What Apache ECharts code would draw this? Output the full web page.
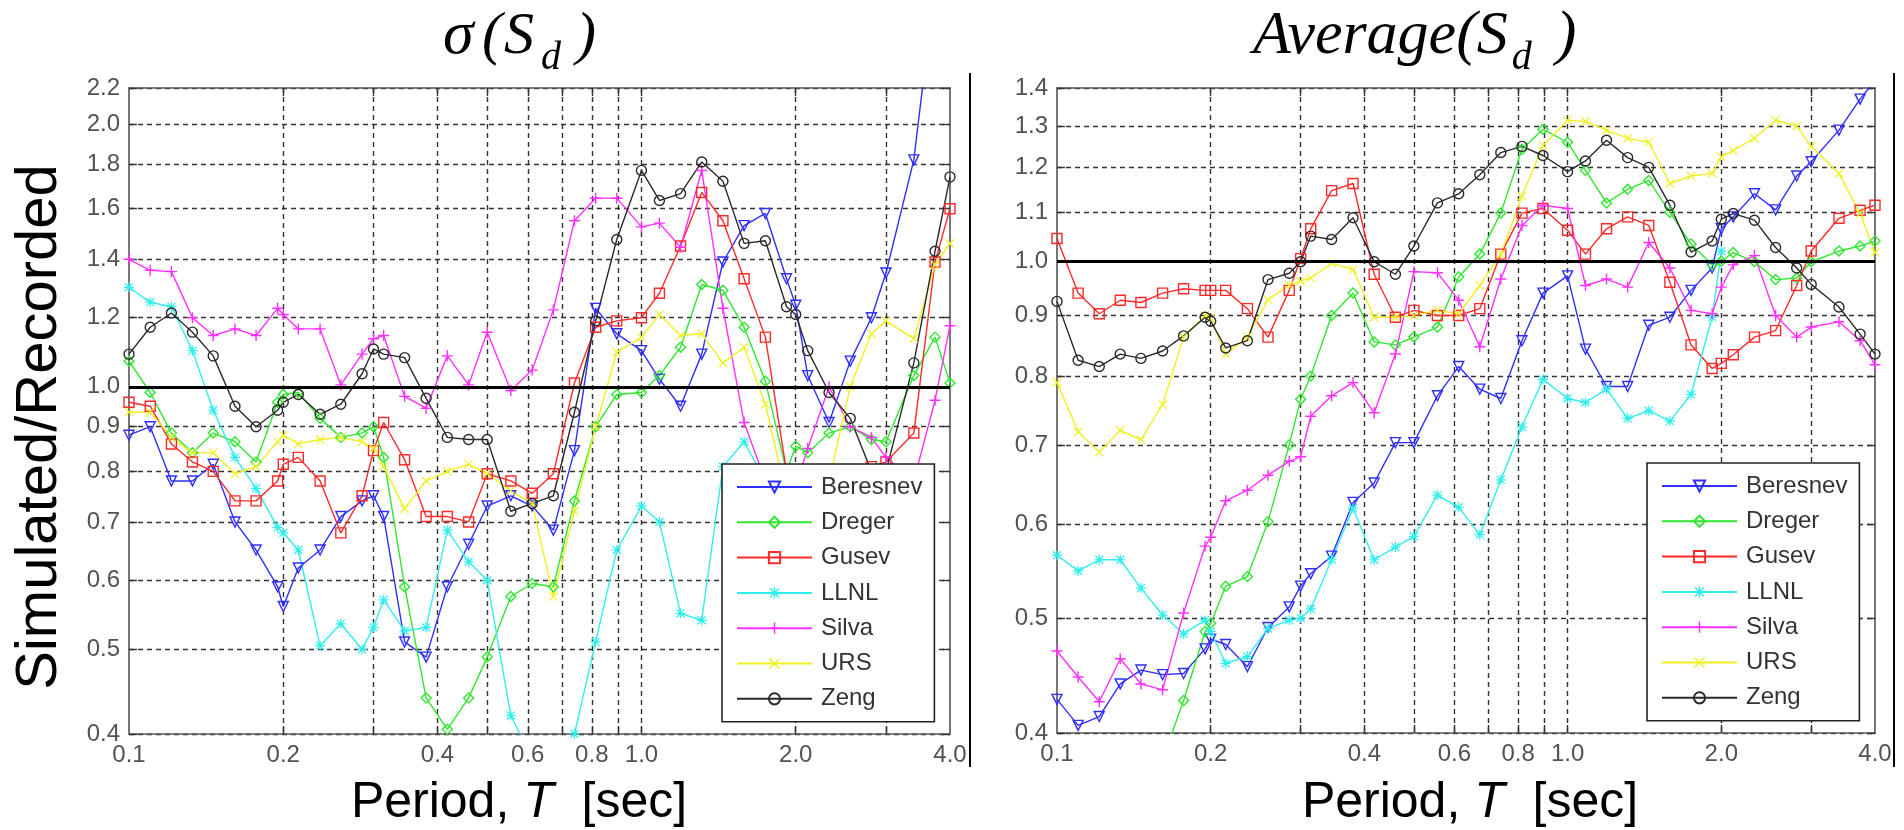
<!DOCTYPE html>
<html><head><meta charset="utf-8">
<script src="https://cdn.jsdelivr.net/npm/echarts@6/dist/echarts.min.js"></script>
<style>html,body{margin:0;padding:0;background:#fff}#c{width:1904px;height:830px}</style>
</head><body><div id="c"></div>
<script>
// ---------------- DATA ----------------
const periods = [0.1,0.11,0.121,0.133,0.146,0.161,0.177,0.195,0.2,0.214,0.236,0.259,0.285,0.3,0.314,0.345,0.38,0.418,0.46,0.5,0.556,0.612,0.673,0.74,0.814,0.895,1.0,1.084,1.192,1.311,1.442,1.586,1.745,1.919,2.0,2.111,2.323,2.555,2.81,3.0,3.4,3.74,4.0];
const modelNames = ['Beresnev','Dreger','Gusev','LLNL','Silva','URS','Zeng'];

// left panel: sigma(Sd) ratio
const sigmaBeresnev = [0.88,0.90,0.78,0.78,0.815,0.70,0.65,0.59,0.56,0.62, 0.65,0.71,0.74,0.75,0.71,0.51,0.49,0.59,0.66,0.73, 0.75,0.73,0.685,0.845,1.23,1.15,1.10,1.02,0.95,1.09, 1.39,1.53,1.58,1.33,1.24,1.03,0.91,1.07,1.20,1.35, 1.82,2.9,4.0];
const sigmaDreger = [1.07,0.985,0.885,0.84,0.885,0.865,0.82,0.96,0.98,0.985, 0.92,0.875,0.885,0.90,0.83,0.59,0.44,0.405,0.44,0.49, 0.575,0.595,0.59,0.74,0.90,0.98,0.985,1.03,1.11,1.31, 1.29,1.17,1.015,0.80,0.855,0.84,0.885,0.90,0.87,0.865, 1.03,1.14,1.01];
const sigmaGusev = [0.96,0.95,0.86,0.82,0.80,0.74,0.74,0.78,0.815,0.83, 0.78,0.68,0.75,0.845,0.91,0.825,0.71,0.71,0.70,0.795, 0.78,0.755,0.795,1.01,1.17,1.19,1.20,1.28,1.45,1.67, 1.55,1.33,1.14,0.80,0.76,0.73,0.71,0.74,0.81,0.82, 0.885,1.39,1.60];
const sigmaLLNL = [1.30,1.25,1.235,1.10,0.94,0.83,0.765,0.69,0.68,0.65, 0.505,0.535,0.50,0.53,0.57,0.525,0.53,0.685,0.63,0.60, 0.42,0.375,0.33,0.40,0.51,0.65,0.73,0.70,0.55,0.54, 0.81,0.865,0.78,0.74,0.72,null,null,null,null,null, null,null,null];
const sigmaSilva = [1.40,1.36,1.355,1.20,1.145,1.165,1.145,1.23,1.21,1.165, 1.165,1.005,1.09,1.135,1.145,0.975,0.945,1.085,1.005,1.155, 0.99,1.045,1.225,1.55,1.645,1.645,1.525,1.54,1.445,1.77, 1.23,0.91,0.78,0.76,0.77,0.85,1.0,0.90,0.875,0.83, 0.78,0.965,1.175];
const sigmaURS = [0.935,0.935,0.875,0.84,0.84,0.795,0.81,0.865,0.88,0.86, 0.87,0.875,0.865,0.85,0.81,0.725,0.78,0.80,0.815,0.795, 0.76,0.735,0.575,0.72,0.90,1.095,1.14,1.21,1.145,1.15, 1.065,1.11,0.955,0.75,0.72,0.72,0.78,1.0,1.15,1.19, 1.135,1.38,1.46];
const sigmaZeng = [1.09,1.17,1.215,1.155,1.085,0.95,0.90,0.94,0.96,0.98, 0.93,0.955,1.035,1.105,1.09,1.08,0.97,0.875,0.87,0.87, 0.72,0.735,0.75,0.935,1.19,1.475,1.77,1.635,1.665,1.81, 1.72,1.46,1.47,1.235,1.21,1.10,0.985,0.92,0.80,0.80, 1.065,1.43,1.74];

// right panel: average(Sd) ratio
const avgBeresnev = [0.427,0.406,0.413,0.44,0.452,0.448,0.449,0.471,0.48,0.475, 0.455,0.491,0.511,0.532,0.545,0.564,0.626,0.65,0.703,0.703, 0.77,0.815,0.78,0.766,0.857,0.94,0.972,0.843,0.784,0.784, 0.883,0.897,0.945,0.987,1.065,1.09,1.14,1.105,1.18,1.213, 1.29,1.37,1.42];
const avgDreger = [null,null,null,null,null,0.38,0.426,0.487,0.495,0.532, 0.542,0.603,0.70,0.765,0.80,0.90,0.94,0.855,0.85,0.863, 0.88,0.97,1.014,1.098,1.243,1.292,1.26,1.193,1.12,1.15, 1.17,1.10,1.034,0.993,1.0,1.017,0.999,0.965,0.968,0.999, 1.02,1.03,1.04];
const avgGusev = [1.045,0.94,0.903,0.927,0.923,0.94,0.948,0.945,0.945,0.945, 0.912,0.863,0.945,1.005,1.065,1.147,1.163,0.975,0.897,0.909, 0.90,0.90,0.912,1.014,1.098,1.108,1.062,1.014,1.065,1.09, 1.072,0.96,0.85,0.812,0.82,0.834,0.863,0.874,0.954,1.02, 1.087,1.104,1.115];
const avgLLNL = [0.565,0.548,0.56,0.56,0.53,0.503,0.485,0.498,0.487,0.458, 0.464,0.49,0.498,0.50,0.509,0.56,0.619,0.56,0.574,0.586, 0.635,0.62,0.588,0.654,0.725,0.795,0.766,0.76,0.78,0.737, 0.748,0.733,0.772,0.897,1.02,null,null,null,null,null, null,null,null];
const avgSilva = [0.469,0.446,0.425,0.462,0.44,0.435,0.505,0.575,0.585,0.628, 0.641,0.66,0.678,0.684,0.74,0.77,0.79,0.745,0.835,0.98, 0.978,0.927,0.847,0.966,1.072,1.115,1.108,0.954,0.966,0.951, 1.037,0.987,0.909,0.903,0.951,0.993,1.011,0.90,0.863,0.88, 0.889,0.857,0.818];
const avgURS = [0.79,0.718,0.69,0.72,0.707,0.757,0.863,0.90,0.895,0.835, 0.863,0.928,0.955,0.962,0.968,0.996,0.984,0.897,0.897,0.90, 0.909,0.903,0.954,1.014,1.135,1.252,1.315,1.312,1.29,1.27, 1.26,1.163,1.18,1.186,1.225,1.24,1.27,1.315,1.30,1.25, 1.186,1.097,1.017];
const avgZeng = [0.925,0.825,0.815,0.835,0.828,0.84,0.865,0.897,0.89,0.845, 0.857,0.965,0.977,0.999,1.05,1.043,1.088,0.999,0.975,1.03, 1.12,1.14,1.183,1.235,1.25,1.228,1.19,1.215,1.265,1.223, 1.20,1.115,1.018,1.04,1.085,1.097,1.083,1.027,0.987,0.956, 0.915,0.868,0.835];

// axis tick values / labels
const xTickValues = [0.2,0.3,0.4,0.5,0.6,0.7,0.8,0.9,1,2,3];
const xLabelValues = [0.1,0.2,0.4,0.6,0.8,1,2,4];
const yLeftValues = [0.4,0.5,0.6,0.7,0.8,0.9,1.0,1.2,1.4,1.6,1.8,2.0,2.2];
const yRightValues = [0.4,0.5,0.6,0.7,0.8,0.9,1.0,1.1,1.2,1.3,1.4];
const refValue = 1.0;

// ---------------- STYLE ----------------
const sigmaSets = [sigmaBeresnev,sigmaDreger,sigmaGusev,sigmaLLNL,sigmaSilva,sigmaURS,sigmaZeng];
const avgSets = [avgBeresnev,avgDreger,avgGusev,avgLLNL,avgSilva,avgURS,avgZeng];
const COLORS = ['#2f2fff','#30e630','#ff2a2a','#30eeee','#ff30ff','#f0f020','#2a2a2a'];
const PLUS = 'path://M4.35,0h1.3v10h-1.3zM0,4.35h10v1.3h-10z';
const CROSS = 'path://M1.0,0.1L9.9,9.0L9.0,9.9L0.1,1.0zM9.0,0.1L9.9,1.0L1.0,9.9L0.1,9.0z';
const STAR = 'path://M4.4,0h1.2v10h-1.2zM0,4.4h10v1.2h-10zM1.5,0.6L9.4,8.5L8.5,9.4L0.6,1.5zM8.5,0.6L9.4,1.5L1.5,9.4L0.6,8.5z';
const TRI_DOWN = 'path://M0,0L10,0L5,9z';
const SYMBOLS = [TRI_DOWN,'diamond','rect',STAR,PLUS,CROSS,'circle'];
const SIZES = [10,10,10,10,11,9,10];
const FILLED = [false,false,false,true,true,true,false];
const FONT = 'Liberation Sans';

function makeSeries(k, vals, gi) {
  const c = COLORS[k];
  const s = {
    name: modelNames[k], type: 'line',
    xAxisIndex: gi * 2, yAxisIndex: gi * 2,
    data: periods.map((p, i) => [p, vals[i] == null ? '-' : vals[i]]),
    symbol: SYMBOLS[k], symbolSize: SIZES[k], showSymbol: true,
    lineStyle: { color: c, width: 1.4 },
    itemStyle: FILLED[k] ? { color: c, borderWidth: 0 } : { color: 'rgba(255,255,255,0)', borderColor: c, borderWidth: 1.4 },
    emphasis: { disabled: true },
    clip: true, z: 3
  };
  if (k === 0) {
    s.markLine = {
      silent: true, symbol: ['none','none'], label: { show: false },
      lineStyle: { color: '#000', width: 3.2, type: 'solid' },
      data: [{ yAxis: refValue }], z: 6
    };
  }
  return s;
}

const series = [];
sigmaSets.forEach((v, k) => series.push(makeSeries(k, v, 0)));
avgSets.forEach((v, k) => series.push(makeSeries(k, v, 1)));

const fmt = v => Number(v).toFixed(1);
const gridDash = { type: [5, 4], color: '#333', width: 1.4 };
const axLine = { lineStyle: { color: '#555', width: 1.6 } };
const LABEL_COLOR = '#525252';

function xAxes(gi) {
  return [{
    gridIndex: gi, type: 'log', logBase: 10, min: 0.1, max: 4, position: 'bottom',
    axisLine: axLine,
    axisTick: { inside: true, length: 8, customValues: xTickValues, lineStyle: { color: '#333', width: 1.4 } },
    axisLabel: { customValues: xLabelValues, formatter: fmt, fontSize: 24, color: LABEL_COLOR, margin: 9, fontFamily: FONT },
    splitLine: { show: true, lineStyle: gridDash }
  }, {
    gridIndex: gi, type: 'log', logBase: 10, min: 0.1, max: 4, position: 'top',
    axisLine: axLine,
    axisTick: { inside: true, length: 8, customValues: xTickValues, lineStyle: { color: '#333', width: 1.4 } },
    axisLabel: { show: false }, splitLine: { show: false }
  }];
}
function yAxes(gi, maxV, vals) {
  return [{
    gridIndex: gi, type: 'log', logBase: 10, min: 0.4, max: maxV, position: 'left',
    axisLine: axLine,
    axisTick: { inside: true, length: 8, customValues: vals, lineStyle: { color: '#333', width: 1.4 } },
    axisLabel: { customValues: vals, formatter: fmt, fontSize: 24, color: LABEL_COLOR, margin: 9, fontFamily: FONT },
    splitLine: { show: true, lineStyle: gridDash }
  }, {
    gridIndex: gi, type: 'log', logBase: 10, min: 0.4, max: maxV, position: 'right',
    axisLine: axLine,
    axisTick: { inside: true, length: 8, customValues: vals, lineStyle: { color: '#333', width: 1.4 } },
    axisLabel: { show: false }, splitLine: { show: false }
  }];
}

function legendAt(left, top) {
  return {
    data: modelNames, orient: 'vertical', left: left, top: top,
    padding: [11, 12, 11, 14], itemGap: 11.3, itemWidth: 75, itemHeight: 14,
    backgroundColor: '#fff', borderColor: '#222', borderWidth: 1.6, borderRadius: 0,
    selectedMode: false,
    textStyle: { fontSize: 24, color: '#333', fontFamily: FONT, lineHeight: 24, padding: [0, 0, 0, 4] }
  };
}

// ---------------- TITLES ----------------
const titleFont = 'Liberation Serif';
const measureCtx = document.createElement('canvas').getContext('2d');
function textWidth(text, size) {
  measureCtx.font = 'italic ' + size + 'px "' + titleFont + '"';
  return measureCtx.measureText(text).width;
}
function tx(x, y, text, size) {
  return { type: 'text', x: x, y: y, silent: true,
    style: { text: text, fontSize: size, fontFamily: titleFont, fontStyle: 'italic', fill: '#000', align: 'left', verticalAlign: 'middle' } };
}
const avgMain = 'Average(S';
const avgX0 = 1253;
const avgMainW = textWidth(avgMain, 62);
const avgDX = avgX0 + avgMainW + 4;
const avgCloseX = avgDX + textWidth('d', 40) + 24;

const xTitle = '{a|Period,} {b|T}  {a|[sec]}';
const xTitleRich = { a: { fontSize: 50, fontFamily: FONT }, b: { fontSize: 50, fontFamily: FONT, fontStyle: 'italic' } };

const option = {
  animation: false,
  backgroundColor: '#fff',
  grid: [
    { left: 129, top: 88, width: 821, height: 646 },
    { left: 1057, top: 88, width: 818, height: 645 }
  ],
  xAxis: [...xAxes(0), ...xAxes(1)],
  yAxis: [...yAxes(0, 2.2, yLeftValues), ...yAxes(1, 1.4, yRightValues)],
  legend: [legendAt(722, 464), legendAt(1647, 463)],
  series: series,
  graphic: [
    { type: 'line', silent: true, shape: { x1: 970, y1: 73, x2: 970, y2: 767 }, style: { stroke: '#000', lineWidth: 2 } },
    { type: 'line', silent: true, shape: { x1: 1894, y1: 73, x2: 1894, y2: 767 }, style: { stroke: '#000', lineWidth: 2 } },
    tx(443, 37, 'σ', 62),
    tx(482, 37, '(', 60),
    tx(504, 37, 'S', 60),
    tx(541, 58, 'd', 40),
    tx(576, 37, ')', 60),
    tx(avgX0, 37, avgMain, 62),
    tx(avgDX, 58, 'd', 40),
    tx(avgCloseX, 37, ')', 62),
    { type: 'text', x: 40, y: 427, rotation: Math.PI / 2, silent: true,
      style: { text: 'Simulated/Recorded', fontSize: 58, fontFamily: FONT, fill: '#000', align: 'center', verticalAlign: 'middle' } },
    { type: 'text', x: 519, y: 803, silent: true,
      style: { text: xTitle, fontSize: 50, fontFamily: FONT, fill: '#000', align: 'center', verticalAlign: 'middle', rich: xTitleRich } },
    { type: 'text', x: 1470, y: 803, silent: true,
      style: { text: xTitle, fontSize: 50, fontFamily: FONT, fill: '#000', align: 'center', verticalAlign: 'middle', rich: xTitleRich } }
  ]
};

const chart = echarts.init(document.getElementById('c'), null, { renderer: 'canvas' });
chart.setOption(option);
</script>
</body></html>
